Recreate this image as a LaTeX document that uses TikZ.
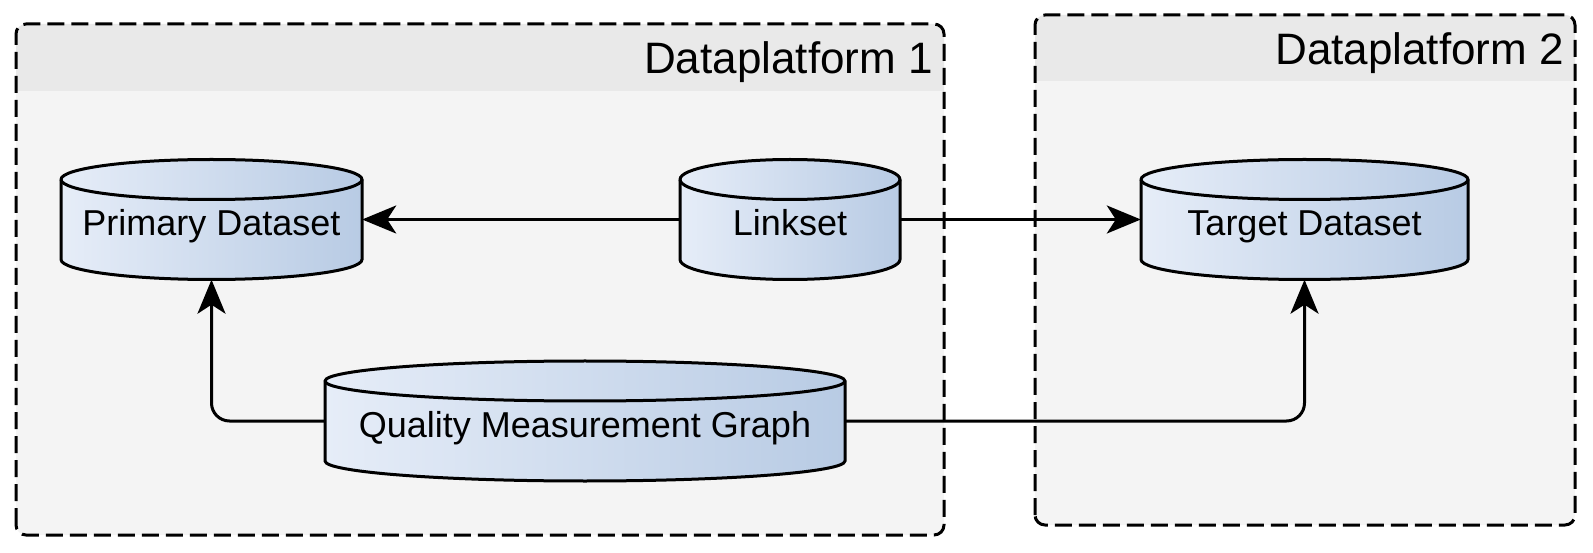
\documentclass[tikz,border=0pt]{standalone}
\usepackage{fontspec}
\setmainfont{Liberation Sans}
\usetikzlibrary{arrows.meta}
\definecolor{contfill}{HTML}{F4F4F4}
\definecolor{headfill}{HTML}{E9E9E9}
\definecolor{cylL}{HTML}{E6EDF8}
\definecolor{cylR}{HTML}{B8CBE4}
\tikzset{
  cylshade/.style={draw=black, line width=3pt, left color=cylL, right color=cylR},
  cylline/.style={draw=black, line width=3pt},
  dblabel/.style={rectangle, inner sep=0pt, minimum height=120pt, text height=32pt, text depth=0pt, font=\fontsize{36}{43}\selectfont},
  contborder/.style={draw=black, line width=3pt, dash pattern=on 17pt off 7pt, rounded corners=10pt},
  conttitle/.style={inner sep=0pt, anchor=base east, font=\fontsize{44}{52}\selectfont},
  conn/.style={draw=black, line width=3pt, -{Stealth[length=34pt,width=28pt,inset=9pt]}}
}
\newcommand\dbcyl[5]{%
  \pgfmathsetmacro\hw{#4/2}%
  \path[cylshade] (#2-\hw,#3+40) -- (#2-\hw,#3-40)
     arc[start angle=180,end angle=360,x radius=\hw pt,y radius=20pt]
     -- (#2+\hw,#3+40)
     arc[start angle=0,end angle=180,x radius=\hw pt,y radius=20pt] -- cycle;
  \path[cylline] (#2-\hw,#3+40) arc[start angle=180,end angle=360,x radius=\hw pt,y radius=20pt];
  \node[dblabel, minimum width=#4pt] (#1) at (#2,#3) {#5};
}
\begin{document}
\begin{tikzpicture}[x=1pt,y=1pt]
\useasboundingbox (0,0) rectangle (1593,552);
% container 1
\fill[contfill, rounded corners=10pt] (16,17) rectangle (944,528);
\fill[headfill] (16,461) -- (16,518) arc[start angle=180,end angle=90,radius=10pt] -- (934,528) arc[start angle=90,end angle=0,radius=10pt] -- (944,461) -- cycle;
\path[contborder] (16,17) rectangle (944,528);
\node[conttitle] (t1) at (933,478) {Dataplatform 1};
% container 2
\fill[contfill, rounded corners=10pt] (1035,27) rectangle (1575,537);
\fill[headfill] (1035,471) -- (1035,527) arc[start angle=180,end angle=90,radius=10pt] -- (1565,537) arc[start angle=90,end angle=0,radius=10pt] -- (1575,471) -- cycle;
\path[contborder] (1035,27) rectangle (1575,537);
\node[conttitle] (t2) at (1564,487) {Dataplatform 2};
% cylinders
\dbcyl{pd}{211.5}{332.5}{301}{Primary Dataset}
\dbcyl{ls}{790}{332.5}{220}{Linkset}
\dbcyl{td}{1304.5}{332.5}{327}{Target Dataset}
\dbcyl{qmg}{585}{131}{520}{Quality Measurement Graph}
% connectors
\draw[conn] (ls.west) -- (pd.east);
\draw[conn] (ls.east) -- (td.west);
\draw[conn, rounded corners=18pt] (qmg.west) -| (pd.south);
\draw[conn, rounded corners=18pt] (qmg.east) -| (td.south);
\end{tikzpicture}
\end{document}
